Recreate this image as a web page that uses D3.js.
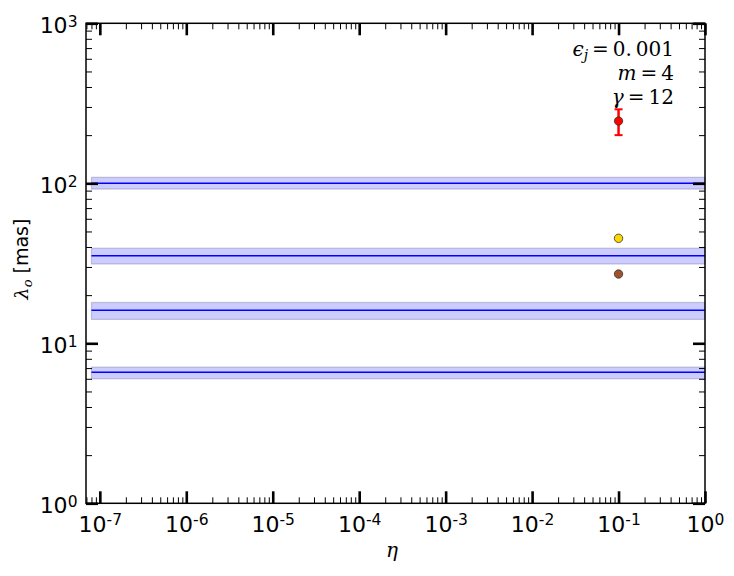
<!DOCTYPE html>
<html>
<head>
<meta charset="utf-8">
<script src="https://cdn.jsdelivr.net/npm/d3@7"></script>
<style>
body { margin: 0; background: #fff; }
text { font-family: "DejaVu Sans", sans-serif; }
</style>
</head>
<body>
<script>
// data
var etaMajor = [1e-7, 1e-6, 1e-5, 1e-4, 1e-3, 1e-2, 1e-1, 1e0];
var etaExp = [-7, -6, -5, -4, -3, -2, -1, 0];
var lamMajor = [1, 10, 100, 1000];
var lamExp = [0, 1, 2, 3];

var bandMid = [100, 35.3, 16.1, 6.6];
var bandLow = [92, 31.3, 14.1, 6.0];
var bandHigh = [109, 39.3, 18.0, 7.1];
var bandEta = [8e-8, 1];

var ptEta = [0.1, 0.1, 0.1];
var ptLam = [245, 45.3, 27.1];
var ptColor = ["#ff0000", "#ffd700", "#a0522d"];
var errLow = [200, null, null];
var errHigh = [290, null, null];

var svg = d3.select("body")
    .append("svg")
    .attr("width", 734)
    .attr("height", 576)
    .style("display", "block");

var pLeft = 86, pRight = 705, pTop = 23.3, pBottom = 503.3;

var x = d3.scaleLog()
    .domain([Math.pow(10, -7.16), 1])
    .range([pLeft, pRight]);

var y = d3.scaleLog()
    .domain([1, 1000])
    .range([pBottom, pTop]);

function minors(lo, hi) {
    var out = [];
    for (var e = lo; e < hi; e++) {
        for (var k = 2; k < 10; k++) out.push(k * Math.pow(10, e));
    }
    return out;
}
var etaMinor = minors(-8, 0).filter(function (d) { return d >= x.domain()[0]; });
var lamMinor = minors(0, 3);

// bands
var g = svg.append("g");
g.selectAll(".band")
    .data(bandMid)
    .enter()
    .append("rect")
    .attr("x", x(bandEta[0]))
    .attr("width", x(bandEta[1]) - x(bandEta[0]))
    .attr("y", function (d, i) { return y(bandHigh[i]); })
    .attr("height", function (d, i) { return y(bandLow[i]) - y(bandHigh[i]); })
    .attr("fill", "rgba(0,0,255,0.2)")
    .attr("stroke", "rgba(60,60,110,0.25)")
    .attr("stroke-width", 1.2);

g.selectAll(".mid")
    .data(bandMid)
    .enter()
    .append("line")
    .attr("x1", x(bandEta[0]))
    .attr("x2", x(bandEta[1]))
    .attr("y1", function (d) { return y(d); })
    .attr("y2", function (d) { return y(d); })
    .attr("stroke", "#0000ff")
    .attr("stroke-width", 1.5);

// error bar
ptEta.forEach(function (d, i) {
    if (errLow[i] == null) return;
    var cx = x(d);
    g.append("line")
        .attr("x1", cx).attr("x2", cx)
        .attr("y1", y(errLow[i])).attr("y2", y(errHigh[i]))
        .attr("stroke", ptColor[i]).attr("stroke-width", 2.5);
    [errLow[i], errHigh[i]].forEach(function (v) {
        g.append("line")
            .attr("x1", cx - 4).attr("x2", cx + 4)
            .attr("y1", y(v)).attr("y2", y(v))
            .attr("stroke", ptColor[i]).attr("stroke-width", 2);
    });
});

g.selectAll(".pt")
    .data(ptLam)
    .enter()
    .append("circle")
    .attr("cx", function (d, i) { return x(ptEta[i]); })
    .attr("cy", function (d) { return y(d); })
    .attr("r", 4.2)
    .attr("fill", function (d, i) { return ptColor[i]; })
    .attr("stroke", "#333")
    .attr("stroke-width", 0.8);

// axes, ticks inward on all four sides
function tickStyle(sel, w) {
    sel.select(".domain").remove();
    sel.selectAll(".tick line").attr("stroke", "#000").attr("stroke-width", w);
}

svg.append("g").attr("transform", "translate(0," + pBottom + ")")
    .call(d3.axisBottom(x).tickValues(etaMinor).tickSize(-6).tickFormat(""))
    .call(tickStyle, 1);
svg.append("g").attr("transform", "translate(0," + pTop + ")")
    .call(d3.axisTop(x).tickValues(etaMinor).tickSize(-6).tickFormat(""))
    .call(tickStyle, 1);
svg.append("g").attr("transform", "translate(" + pLeft + ",0)")
    .call(d3.axisLeft(y).tickValues(lamMinor).tickSize(-6).tickFormat(""))
    .call(tickStyle, 1);
svg.append("g").attr("transform", "translate(" + pRight + ",0)")
    .call(d3.axisRight(y).tickValues(lamMinor).tickSize(-6).tickFormat(""))
    .call(tickStyle, 1);

var xb = svg.append("g").attr("transform", "translate(0," + pBottom + ")")
    .call(d3.axisBottom(x).tickValues(etaMajor).tickSize(-12).tickFormat(""))
    .call(tickStyle, 2.6);
svg.append("g").attr("transform", "translate(0," + pTop + ")")
    .call(d3.axisTop(x).tickValues(etaMajor).tickSize(-12).tickFormat(""))
    .call(tickStyle, 2.6);
var yl = svg.append("g").attr("transform", "translate(" + pLeft + ",0)")
    .call(d3.axisLeft(y).tickValues(lamMajor).tickSize(-12).tickPadding(8.5).tickFormat(""))
    .call(tickStyle, 2.6);
svg.append("g").attr("transform", "translate(" + pRight + ",0)")
    .call(d3.axisRight(y).tickValues(lamMajor).tickSize(-12).tickFormat(""))
    .call(tickStyle, 2.6);

function powLabel(sel, exps) {
    sel.selectAll(".tick text")
        .attr("fill", "#000")
        .style("font-size", "22px")
        .each(function (d, i) {
            var t = d3.select(this);
            t.append("tspan").text("10");
            t.append("tspan").attr("dy", "-0.42em").style("font-size", "15.5px").text(exps[i]);
        });
}
xb.call(powLabel, etaExp);
xb.selectAll(".tick text").attr("dy", null).attr("y", 28.5);
yl.call(powLabel, lamExp);
yl.selectAll(".tick text").attr("dy", "0.42em");

// frame
svg.append("rect")
    .attr("x", pLeft).attr("y", pTop)
    .attr("width", pRight - pLeft).attr("height", pBottom - pTop)
    .attr("fill", "none").attr("stroke", "#000").attr("stroke-width", 1.5);

// axis titles
svg.append("text")
    .attr("x", 392)
    .attr("y", 557)
    .attr("text-anchor", "middle")
    .style("font-family", "DejaVu Serif, serif")
    .style("font-style", "italic")
    .style("font-size", "20px")
    .text("η");

var yt = svg.append("text")
    .attr("transform", "translate(28,259) rotate(-90)")
    .attr("text-anchor", "middle")
    .style("font-size", "19px");
yt.append("tspan").style("font-family", "DejaVu Serif, serif").style("font-style", "italic").text("λ");
yt.append("tspan").attr("dy", 4).style("font-family", "DejaVu Serif, serif").style("font-style", "italic").style("font-size", "13px").text("o");
yt.append("tspan").attr("dy", -4).text(" [mas]");

// parameter note
var note = [
    [["ϵ", "i"], ["j", "sub"], ["\u2009=\u20090.\u2009001", "r"]],
    [["m", "i"], ["\u2009=\u20094", "r"]],
    [["γ", "i"], ["\u2009=\u200912", "r"]]
];
var noteY = [56, 80, 104];
note.forEach(function (parts, k) {
    var t = svg.append("text")
        .attr("x", 674)
        .attr("y", noteY[k])
        .attr("text-anchor", "end")
        .style("font-family", "DejaVu Serif, serif")
        .style("font-size", "20px");
    parts.forEach(function (p) {
        var s = t.append("tspan").text(p[0]);
        if (p[1] === "i") s.style("font-style", "italic");
        if (p[1] === "sub") s.style("font-style", "italic").style("font-size", "14px").attr("dy", 4);
        if (p[1] === "r" && parts.length === 3) s.attr("dy", -4);
    });
});
</script>
</body>
</html>
